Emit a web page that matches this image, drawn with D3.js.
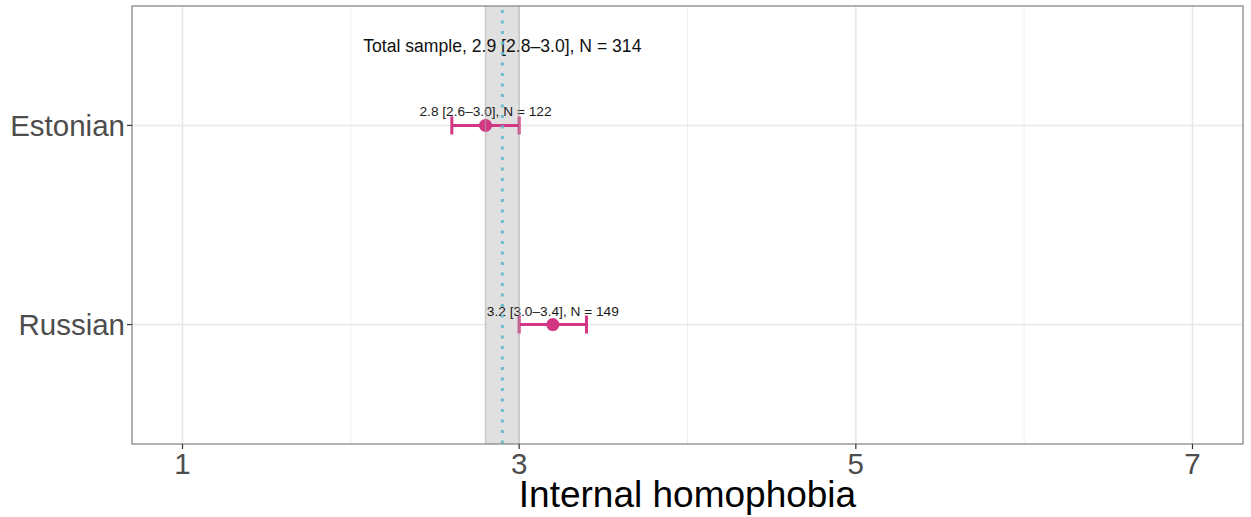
<!DOCTYPE html>
<html>
<head>
<meta charset="utf-8">
<script src="https://cdn.jsdelivr.net/npm/d3@7"></script>
<style>
  html, body { margin: 0; padding: 0; background: #fff; }
  svg { display: block; font-family: "Liberation Sans", Arial, sans-serif; }
</style>
</head>
<body>
<svg id="chart" width="1251" height="517"></svg>
<script>
// ---- data ----
const groups = ["Estonian", "Russian"];
const means = [2.8, 3.2];
const lowers = [2.6, 3.0];
const uppers = [3.0, 3.4];
const ns = [122, 149];
const labels = ["2.8 [2.6–3.0], N = 122", "3.2 [3.0–3.4], N = 149"];
const totalMean = 2.9, totalLower = 2.8, totalUpper = 3.0, totalN = 314;
const totalLabel = "Total sample, 2.9 [2.8–3.0], N = 314";
const xTicks = [1, 3, 5, 7];
const xMinor = [2, 4, 6];
const xTitle = "Internal homophobia";

// ---- layout ----
const svg = d3.select("#chart");
const L = 132, R = 1243, T = 6, B = 444;
const x = d3.scaleLinear().domain([0.7, 7.3]).range([L, R]);
const yPos = d3.scaleLinear().domain([0.4, 2.6]).range([B, T]);
const level = g => groups.length - groups.indexOf(g);
const y = g => yPos(level(g));

const magenta = "#d33682";
const g = svg.append("g");

g.append("rect").attr("x", L).attr("y", T).attr("width", R - L).attr("height", B - T).attr("fill", "#fff");

// minor grid
g.selectAll(".minor").data(xMinor).join("line")
  .attr("x1", d => x(d)).attr("x2", d => x(d)).attr("y1", T).attr("y2", B)
  .attr("stroke", "#efefef").attr("stroke-width", 1);
// major grid
g.selectAll(".major").data(xTicks).join("line")
  .attr("x1", d => x(d)).attr("x2", d => x(d)).attr("y1", T).attr("y2", B)
  .attr("stroke", "#e8e8e8").attr("stroke-width", 1.5);
g.selectAll(".hmajor").data(groups).join("line")
  .attr("x1", L).attr("x2", R).attr("y1", d => y(d)).attr("y2", d => y(d))
  .attr("stroke", "#e8e8e8").attr("stroke-width", 1.5);

// band fill (under marks)
g.append("rect")
  .attr("x", x(totalLower)).attr("width", x(totalUpper) - x(totalLower))
  .attr("y", T).attr("height", B - T)
  .attr("fill", "#e0e0e0");

// error bars
const capH = 9;
const eb = g.selectAll(".eb").data(groups).join("g");
eb.append("line")
  .attr("x1", (d, i) => x(lowers[i])).attr("x2", (d, i) => x(uppers[i]))
  .attr("y1", d => y(d)).attr("y2", d => y(d))
  .attr("stroke", magenta).attr("stroke-width", 3);
eb.append("line")
  .attr("x1", (d, i) => x(lowers[i])).attr("x2", (d, i) => x(lowers[i]))
  .attr("y1", d => y(d) - capH).attr("y2", d => y(d) + capH)
  .attr("stroke", magenta).attr("stroke-width", 3);
eb.append("line")
  .attr("x1", (d, i) => x(uppers[i])).attr("x2", (d, i) => x(uppers[i]))
  .attr("y1", d => y(d) - capH).attr("y2", d => y(d) + capH)
  .attr("stroke", magenta).attr("stroke-width", 3);
eb.append("circle")
  .attr("cx", (d, i) => x(means[i])).attr("cy", d => y(d)).attr("r", 6.5)
  .attr("fill", magenta);

// labels for groups
g.selectAll(".lbl").data(groups).join("text")
  .attr("x", (d, i) => x(means[i])).attr("y", d => y(d) - 9)
  .attr("text-anchor", "middle").attr("font-size", 13.7).attr("fill", "#1a1a1a")
  .text((d, i) => labels[i]);

// total sample label
g.append("text")
  .attr("x", x(totalMean)).attr("y", yPos(2.4) + 6)
  .attr("text-anchor", "middle").attr("font-size", 17.6).attr("fill", "#111")
  .text(totalLabel);

// band edges on top (semi-transparent)
[totalLower, totalUpper].forEach(v => {
  g.append("line")
    .attr("x1", x(v)).attr("x2", x(v)).attr("y1", T).attr("y2", B)
    .attr("stroke", "rgba(170,170,170,0.55)").attr("stroke-width", 1.5);
});
// dotted line
g.append("line")
  .attr("x1", x(totalMean)).attr("x2", x(totalMean)).attr("y1", T + 4).attr("y2", B)
  .attr("stroke", "#6cbccd").attr("stroke-width", 3)
  .attr("stroke-dasharray", "3 7.5");

// panel border
g.append("rect").attr("x", L).attr("y", T).attr("width", R - L).attr("height", B - T)
  .attr("fill", "none").attr("stroke", "#7f7f7f").attr("stroke-width", 1.2);

// x axis ticks
g.selectAll(".xt").data(xTicks).join("line")
  .attr("x1", d => x(d)).attr("x2", d => x(d)).attr("y1", B).attr("y2", B + 5)
  .attr("stroke", "#333").attr("stroke-width", 1.2);
g.selectAll(".xl").data(xTicks).join("text")
  .attr("x", d => x(d)).attr("y", B + 30)
  .attr("text-anchor", "middle").attr("font-size", 29.5).attr("fill", "#4d4d4d")
  .text(d => d);

// y axis ticks
g.selectAll(".yt").data(groups).join("line")
  .attr("x1", L - 5).attr("x2", L).attr("y1", d => y(d)).attr("y2", d => y(d))
  .attr("stroke", "#333").attr("stroke-width", 1.2);
g.selectAll(".yl").data(groups).join("text")
  .attr("x", L - 7).attr("y", d => y(d) + 10.5)
  .attr("text-anchor", "end").attr("font-size", 29.5).attr("fill", "#4d4d4d")
  .text(d => d);

// x title
g.append("text")
  .attr("x", (L + R) / 2).attr("y", 507)
  .attr("text-anchor", "middle").attr("font-size", 37).attr("fill", "#000")
  .text(xTitle);
</script>
</body>
</html>
